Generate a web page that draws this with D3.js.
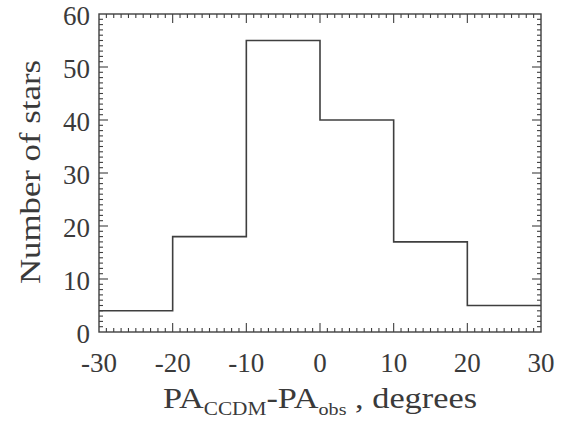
<!DOCTYPE html>
<html>
<head>
<meta charset="utf-8">
<script src="https://cdn.jsdelivr.net/npm/d3@7"></script>
<style>
  body { margin: 0; background: #fff; }
  text { font-family: "Liberation Serif", "DejaVu Serif", serif; fill: #3a3a3a; }
</style>
</head>
<body>
<script>
// histogram data
var binEdges = [-30, -20, -10, 0, 10, 20, 30];
var counts = [4, 18, 55, 40, 17, 5];
var xTicks = [-30, -20, -10, 0, 10, 20, 30];
var yTicks = [0, 10, 20, 30, 40, 50, 60];

var width = 569, height = 421;
var margin = { left: 99, right: 28, top: 14, bottom: 89 };

var svg = d3.select("body").append("svg")
  .attr("width", width)
  .attr("height", height);

var x = d3.scaleLinear().domain([-30, 30]).range([margin.left, width - margin.right]);
var y = d3.scaleLinear().domain([0, 60]).range([height - margin.bottom, margin.top]);

var ink = "#3f3f3f";

// frame
svg.append("rect")
  .attr("x", x(-30)).attr("y", y(60))
  .attr("width", x(30) - x(-30)).attr("height", y(0) - y(60))
  .attr("fill", "none").attr("stroke", ink).attr("stroke-width", 1.4);

// ticks on all four sides, inward
var minorX = d3.range(-30, 31, 1), minorY = d3.range(0, 61, 1);
function tickLen(v) { return v % 10 === 0 ? 9 : 4; }

var g = svg.append("g").attr("stroke", ink).attr("stroke-width", 1.1);
minorX.forEach(function (v) {
  if (v === -30 || v === 30) return;
  g.append("line").attr("x1", x(v)).attr("x2", x(v)).attr("y1", y(0)).attr("y2", y(0) - tickLen(v));
  g.append("line").attr("x1", x(v)).attr("x2", x(v)).attr("y1", y(60)).attr("y2", y(60) + tickLen(v));
});
minorY.forEach(function (v) {
  if (v === 0 || v === 60) return;
  g.append("line").attr("y1", y(v)).attr("y2", y(v)).attr("x1", x(-30)).attr("x2", x(-30) + tickLen(v));
  g.append("line").attr("y1", y(v)).attr("y2", y(v)).attr("x1", x(30)).attr("x2", x(30) - tickLen(v));
});

// step outline of the histogram
var pts = [];
counts.forEach(function (c, i) {
  pts.push([binEdges[i], c]);
  pts.push([binEdges[i + 1], c]);
});
svg.append("path")
  .datum(pts)
  .attr("fill", "none")
  .attr("stroke", ink)
  .attr("stroke-width", 1.6)
  .attr("d", d3.line().x(function (d) { return x(d[0]); }).y(function (d) { return y(d[1]); }));

// tick labels
svg.selectAll(".xl").data(xTicks).enter().append("text")
  .attr("class", "xl")
  .attr("x", function (d) { return x(d); })
  .attr("y", 372)
  .attr("text-anchor", "middle")
  .style("font-size", "27px")
  .text(function (d) { return d; });

svg.selectAll(".yl").data(yTicks).enter().append("text")
  .attr("class", "yl")
  .attr("x", 90)
  .attr("y", function (d) { return y(d) + 11; })
  .attr("text-anchor", "end")
  .style("font-size", "27px")
  .text(function (d) { return d; });

// axis titles (stretched a bit, the original face is wider than Times)
svg.append("text")
  .attr("transform", "translate(40," + 172 + ") rotate(-90)")
  .attr("text-anchor", "middle")
  .attr("textLength", 224)
  .attr("lengthAdjust", "spacingAndGlyphs")
  .style("font-size", "30px")
  .text("Number of stars");

var xt = svg.append("text")
  .attr("x", 320)
  .attr("y", 408)
  .attr("text-anchor", "middle")
  .attr("textLength", 314)
  .attr("lengthAdjust", "spacingAndGlyphs")
  .style("font-size", "29px");
xt.append("tspan").text("PA");
xt.append("tspan").attr("dy", 7).style("font-size", "18px").text("CCDM");
xt.append("tspan").attr("dy", -7).text("-PA");
xt.append("tspan").attr("dy", 7).style("font-size", "17px").text("obs");
xt.append("tspan").attr("dy", -7).text(" , degrees");
</script>
</body>
</html>
